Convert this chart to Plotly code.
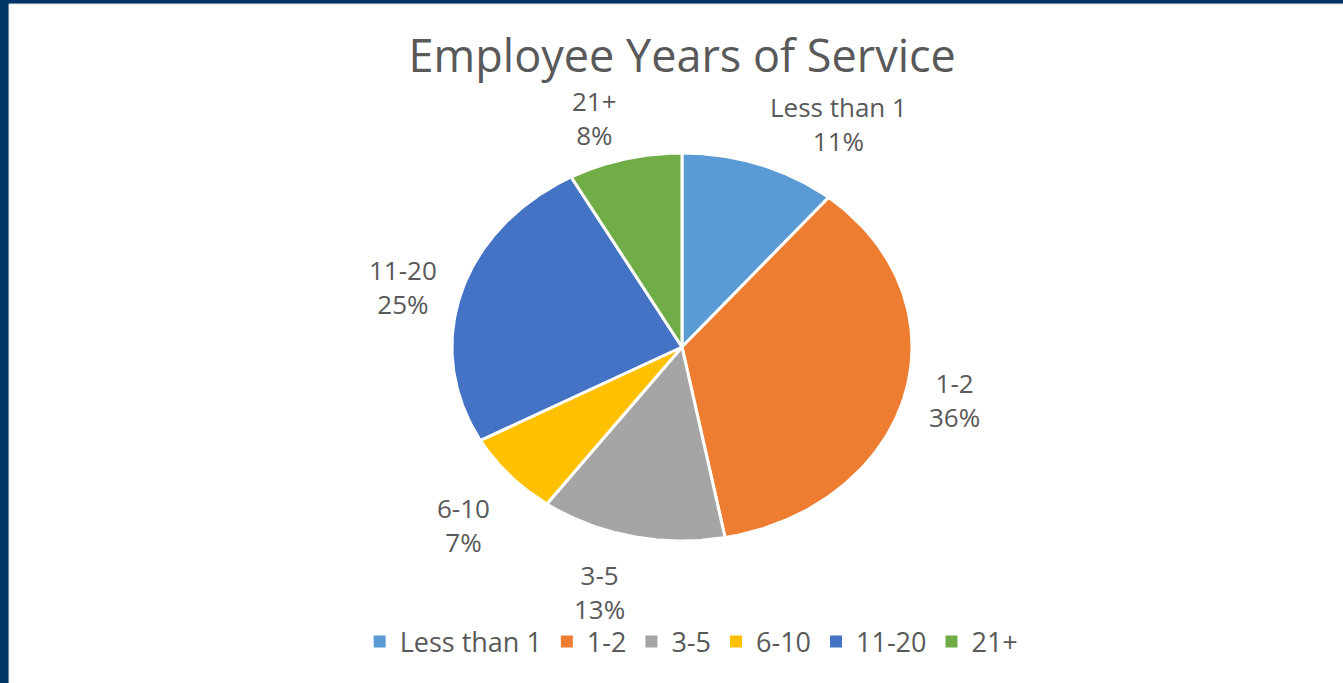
import numpy as np
import plotly.graph_objects as go

# Employee years-of-service breakdown
categories = ["Less than 1", "1-2", "3-5", "6-10", "11-20", "21+"]
shares = [11, 36, 13, 7, 25, 8]
colors = ["#5B9BD5", "#ED7D31", "#A5A5A5", "#FFC000", "#4472C4", "#70AD47"]

W, H = 1343, 683
CX, CY = 682, 347          # pie centre (pixels)
RX, RY = 230, 194          # horizontal / vertical radii (elliptical pie)
TEXT = "#595959"
FONT = "'Open Sans', Lato, sans-serif"

fig = go.Figure()

total = float(sum(shares))
start = 0.0
for name, val, col in zip(categories, shares, colors):
    sweep = 360.0 * val / total
    ang = np.radians(np.linspace(start, start + sweep, 120))
    xs = np.concatenate([[CX], CX + RX * np.sin(ang), [CX]])
    ys = np.concatenate([[CY], CY - RY * np.cos(ang), [CY]])
    fig.add_trace(go.Scatter(
        x=xs, y=ys, mode="lines", fill="toself", fillcolor=col,
        line=dict(color="white", width=3), showlegend=False,
        hoverinfo="text", text=f"{name}: {val}%",
    ))

    # outside data label, anchored away from the pie
    mid = np.radians(start + sweep / 2)
    s, c = np.sin(mid), np.cos(mid)
    lx = CX + 1.10 * RX * s
    ly = CY - 1.10 * RY * c
    xa = "left" if s > 0.2 else ("right" if s < -0.2 else "center")
    ya = "bottom" if c > 0.3 else ("top" if c < -0.3 else "middle")
    fig.add_annotation(
        x=lx, y=ly, xref="x", yref="y", xanchor=xa, yanchor=ya,
        yshift=-15 if ya == "bottom" else 0,
        text=f"{name}<br>{val}%", showarrow=False, align="center",
        font=dict(family=FONT, size=26, color=TEXT),
    )
    start += sweep

# legend entries (square swatches)
for name, col in zip(categories, colors):
    fig.add_trace(go.Scatter(
        x=[None], y=[None], mode="markers", name=name,
        marker=dict(symbol="square", size=11, color=col),
    ))

fig.update_layout(
    width=W, height=H,
    margin=dict(l=0, r=0, t=0, b=0),
    paper_bgcolor="#003366",
    plot_bgcolor="#003366",
    title=dict(
        text="Employee Years of Service", x=0.508, xanchor="center",
        y=0.917, yanchor="middle",
        font=dict(family=FONT, size=45, color=TEXT),
    ),
    xaxis=dict(range=[0, W], visible=False, fixedrange=True),
    yaxis=dict(range=[H, 0], visible=False, fixedrange=True),
    shapes=[dict(
        type="rect", xref="x", yref="y", x0=9, x1=W + 2, y0=4, y1=H + 2,
        fillcolor="white", line=dict(color="#E3E3E3", width=1), layer="below",
    )],
    legend=dict(
        orientation="h", x=0.515, xanchor="center", y=0.060, yanchor="middle",
        font=dict(family=FONT, size=27, color=TEXT),
        bgcolor="rgba(0,0,0,0)", itemsizing="constant", itemwidth=30,
        tracegroupgap=0,
    ),
    showlegend=True,
)

fig.write_html("out.html")
